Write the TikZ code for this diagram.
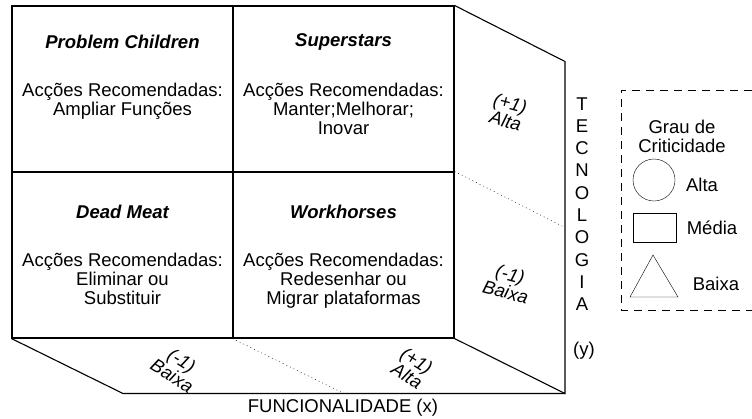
\documentclass[tikz,border=0pt]{standalone}
\usepackage{fontspec}
\setmainfont{Liberation Sans}
\usetikzlibrary{positioning}

\tikzset{
  cell/.style={draw, line width=1.1pt, minimum width=221pt, minimum height=166pt, inner sep=0pt},
  quadtitle/.style={font=\fontsize{18.5}{19}\selectfont\bfseries\itshape, inner sep=0pt},
  quadbody/.style={font=\fontsize{18.5}{19}\selectfont, align=center, inner sep=0pt, anchor=north},
  facelabel/.style={font=\fontsize{18.5}{18}\selectfont\itshape, align=center, inner sep=0pt},
  legtext/.style={font=\fontsize{18.5}{19}\selectfont, align=center, inner sep=0pt},
}

\begin{document}
\begin{tikzpicture}[x=1pt, y=-1pt]
		\useasboundingbox (0,0) rectangle (752,418);
		% quadrantes
		\node [cell] (pc) at (122.5,89) {};
		\node [cell] (ss) at (343.5,89) {};
		\node [cell] (dm) at (122.5,255) {};
		\node [cell] (wh) at (343.5,255) {};
		% faces laterais
		\coordinate (rt) at (565,61.5);
		\coordinate (rb) at (565,393.5);
		\coordinate (bl) at (123,393.5);
		\coordinate (rm) at (565,227.5);
		\coordinate (bm) at (344,393.5);
		\draw [line width=1.1pt] (ss.north east) -- (rt) -- (rb) -- (wh.south east);
		\draw [line width=1.1pt] (dm.south west) -- (bl) -- (rb);
		\draw [dash pattern=on 1pt off 3pt] (wh.north east) -- (rm);
		\draw [dash pattern=on 1pt off 3pt] (wh.south west) -- (bm);
		% textos dos quadrantes
		\node [quadtitle] (pct) at (122.5,42) {Problem Children};
		\node [quadbody] (pcb) at (122.5,83) {Acções Recomendadas:\\Ampliar Funções};
		\node [quadtitle] (sst) at (343.5,42) {Superstars};
		\node [quadbody] (ssb) at (343.5,83) {Acções Recomendadas:\\Manter;Melhorar;\\Inovar};
		\node [quadtitle] (dmt) at (122.5,212) {Dead Meat};
		\node [quadbody] (dmb) at (122.5,253) {Acções Recomendadas:\\Eliminar ou\\Substituir};
		\node [quadtitle] (wht) at (343.5,212) {Workhorses};
		\node [quadbody] (whb) at (343.5,253) {Acções Recomendadas:\\Redesenhar ou\\Migrar plataformas};
		% escalas
		\node [facelabel, rotate=-15] (thi) at (508,112) {(+1)\\Alta};
		\node [facelabel, rotate=-15] (tlo) at (508,283) {(-1)\\Baixa};
		\node [facelabel, rotate=-32] (flo) at (177,368) {(-1)\\Baixa};
		\node [facelabel, rotate=-32] (fhi) at (412,368) {(+1)\\Alta};
		% eixos
		\node [legtext, font=\fontsize{18.5}{22.3}\selectfont] (tec) at (582,204) {T\\E\\C\\N\\O\\L\\O\\G\\I\\A};
		\node [legtext] (ty) at (584,351) {(y)};
		\node [legtext] (fx) at (343,408) {FUNCIONALIDADE (x)};
		% legenda
		\draw [line width=0.9pt, dash pattern=on 8pt off 6pt] (752,90) -- (621,90) -- (621,310) -- (752,310);
		\node [legtext] (grau) at (682,136) {Grau de\\Criticidade};
		\node [draw, circle, minimum size=42pt, inner sep=0pt] (lcirc) at (654,180) {};
		\node [legtext] (lalta) at (702,185) {Alta};
		\node [draw, minimum width=43pt, minimum height=29pt, inner sep=0pt] (lrect) at (654.5,227.5) {};
		\node [legtext] (lmedia) at (712,228) {Média};
		\draw (653,255) -- (678,297) -- (630,297) -- cycle;
		\node [legtext] (lbaixa) at (716,284) {Baixa};
	\end{tikzpicture}
\end{document}
